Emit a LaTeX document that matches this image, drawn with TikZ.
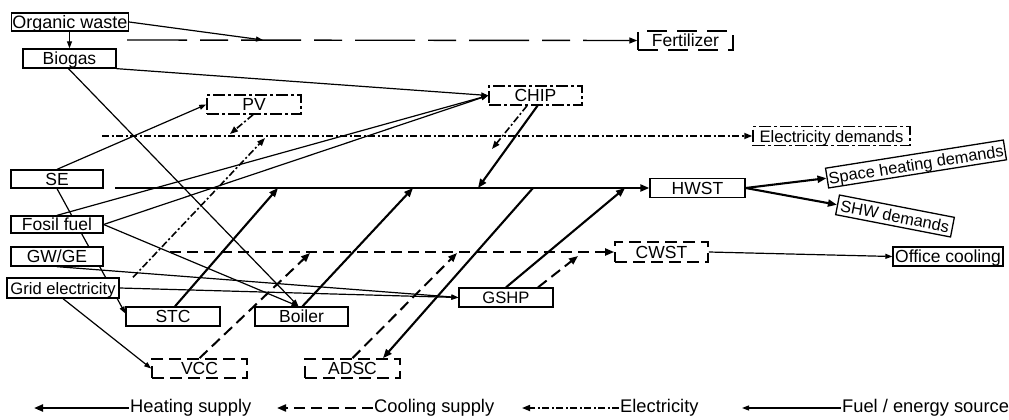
\documentclass[tikz,border=0pt]{standalone}
\usepackage{fontspec}
\setmainfont{Liberation Sans}
\usetikzlibrary{arrows.meta,backgrounds,calc}
\begin{document}
\begin{tikzpicture}[x=1pt,y=-1pt,
  every node/.style={font=\fontsize{17.5}{20}\selectfont},
  box/.style={draw, fill=white, line width=1.3pt, inner sep=1pt, text height=12.5pt, text depth=0pt, minimum height=19pt, anchor=center},
  dbox/.style={box, dash pattern=on 12pt off 6pt, line width=1.7pt},
  ebox/.style={box, dash pattern=on 12pt off 3pt on 3pt off 3pt, line width=1.5pt},
  fbox/.style={box, dash pattern=on 20pt off 10pt, line width=1.5pt},
  fuel/.style={line width=1.2pt, -{Triangle[length=7pt,width=5pt]}},
  heat/.style={line width=2.1pt, -{Triangle[length=9pt,width=7pt]}},
  cool/.style={line width=2pt, dash pattern=on 11pt off 6pt, -{Triangle[length=9pt,width=7pt]}},
  elec/.style={line width=1.6pt, dash pattern=on 7pt off 2.5pt on 2pt off 2.5pt, -{Triangle[length=8pt,width=6pt]}},
  fertline/.style={line width=1.4pt, dash pattern=on 60pt off 13pt on 28pt off 13pt, -{Triangle[length=8pt,width=6pt]}},
  legend/.style={font=\fontsize{18.3}{20}\selectfont, anchor=west, inner sep=1pt},
  small/.style={font=\fontsize{16.6}{20}\selectfont},
]
\useasboundingbox (0,0) rectangle (1009,420);

% ---------- nodes ----------
\node[box, minimum width=116pt, minimum height=18pt, font=\fontsize{18}{20}\selectfont] (ow) at (70,22) {Organic waste};
\node[box, minimum width=93pt] (bio) at (69.5,58.5) {Biogas};
\node[fbox, minimum width=95pt] (fert) at (685.5,40.5) {Fertilizer};
\node[ebox, minimum width=94pt] (pv) at (254,104.5) {PV};
\node[ebox, minimum width=93pt] (chip) at (535.5,95.5) {CHIP};
\node[ebox, minimum width=157pt, small] (eld) at (831.5,136) {Electricity demands};
\node[box, minimum width=92pt, minimum height=18pt] (se) at (57,179) {SE};
\node[box, minimum width=92pt, minimum height=17pt] (ff) at (57,224.5) {Fosil fuel};
\node[box, minimum width=92pt] (gw) at (57,256.5) {GW/GE};
\node[box, minimum width=112pt, minimum height=20pt, small] (grid) at (63,288) {Grid electricity};
\node[box, minimum width=94pt] (stc) at (173,316.5) {STC};
\node[box, minimum width=93pt] (boiler) at (301.5,316.5) {Boiler};
\node[dbox, minimum width=95pt] (vcc) at (199.5,368.5) {VCC};
\node[dbox, minimum width=95pt] (adsc) at (352.5,368.5) {ADSC};
\node[box, minimum width=94pt, small] (gshp) at (506,297.5) {GSHP};
\node[box, minimum width=95pt] (hwst) at (697.5,188) {HWST};
\node[dbox, minimum width=93pt, minimum height=20pt] (cwst) at (661.5,252) {CWST};
\node[box, rotate=9, minimum width=180pt, minimum height=20pt, font=\fontsize{16.4}{20}\selectfont] (shd) at (916,164) {Space heating demands};
\node[box, rotate=-11, minimum width=117pt, minimum height=20pt, font=\fontsize{16.4}{20}\selectfont] (shw) at (895,216) {SHW demands};
\node[box, minimum width=110pt] (oc) at (948,256.5) {Office cooling};

% ---------- trunk points ----------
\coordinate (fS) at (127,40);
\coordinate (fA) at (263,40);
\coordinate (hS) at (115,188);
\coordinate (h1) at (278,188);
\coordinate (h2) at (413,188);
\coordinate (h3) at (625,188);
\coordinate (h4) at (478,188);
\coordinate (h5) at (533,188);
\coordinate (cS) at (170,252);
\coordinate (c1) at (310,253);
\coordinate (c2) at (457,253);
\coordinate (c3) at (578,256);
\coordinate (eS) at (102,136);
\coordinate (e1) at (230,134);
\coordinate (e2) at (265,138);
\coordinate (e3) at (492,149);

\begin{scope}[on background layer]
% fuel / energy source
\draw[fuel] (bio.north |- ow.south) -- (bio.north);
\draw[fuel] (ow.east) -- (fA);
\draw[fertline] (fS) -- (fert.west);
\draw[fuel] (bio.south east) -- (chip.west);
\draw[fuel] ([xshift=-1pt]bio.south) -- ([xshift=-3pt]boiler.north);
\draw[fuel] (se.north) -- (pv.west);
\draw[fuel] (se.south) -- ([yshift=3pt]stc.west);
\draw[fuel] (ff.north) -- (chip.west);
\draw[fuel] (ff.east) -- (chip.west);
\draw[fuel] (ff.east) -- ([xshift=-3pt]boiler.north);
\draw[fuel] (gw.south) -- (gshp.west);
\draw[fuel] (grid.east) -- (gshp.west);
\draw[fuel] (grid.south) -- (vcc.west);
\draw[fuel] (cwst.east) -- (oc.west);
% heating
\draw[heat] (hS) -- (hwst.west);
\draw[heat] ([xshift=2pt]stc.north) -- (h1);
\draw[heat] ([xshift=1pt]boiler.north) -- (h2);
\draw[heat] (gshp.north) -- (h3);
\draw[heat] ([xshift=2pt]chip.south) -- (h4);
\draw[heat] (h5) -- ([xshift=30.5pt]adsc.north);
\draw[heat] (hwst.east) -- (shd.west);
\draw[heat] (hwst.east) -- (shw.west);
% cooling
\draw[cool] (cS) -- (cwst.west);
\draw[cool] (vcc.north) -- (c1);
\draw[cool] (adsc.north) -- (c2);
\draw[cool] ([xshift=32pt]gshp.north) -- (c3);
% electricity
\draw[elec] (eS) -- (eld.west);
\draw[elec] ([xshift=-1pt]pv.south) -- (e1);
\draw[elec] ([xshift=70pt]grid.north) -- (e2);
\draw[elec] ([xshift=-8.5pt]chip.south) -- (e3);
\end{scope}

% ---------- legend ----------
\node[legend] (lh) at (129,408) {Heating supply};
\node[legend] (lc) at (373,408) {Cooling supply};
\node[legend] (le) at (619,408) {Electricity};
\node[legend] (lf) at (841,408) {Fuel / energy source};
\coordinate (lh0) at (34,408);
\coordinate (lc0) at (277,408);
\coordinate (le0) at (522,408);
\coordinate (lf0) at (742,408);
\draw[heat] (lh.west) -- (lh0);
\draw[cool] (lc.west) -- (lc0);
\draw[elec] (le.west) -- (le0);
\draw[fuel] (lf.west) -- (lf0);
\end{tikzpicture}
\end{document}
